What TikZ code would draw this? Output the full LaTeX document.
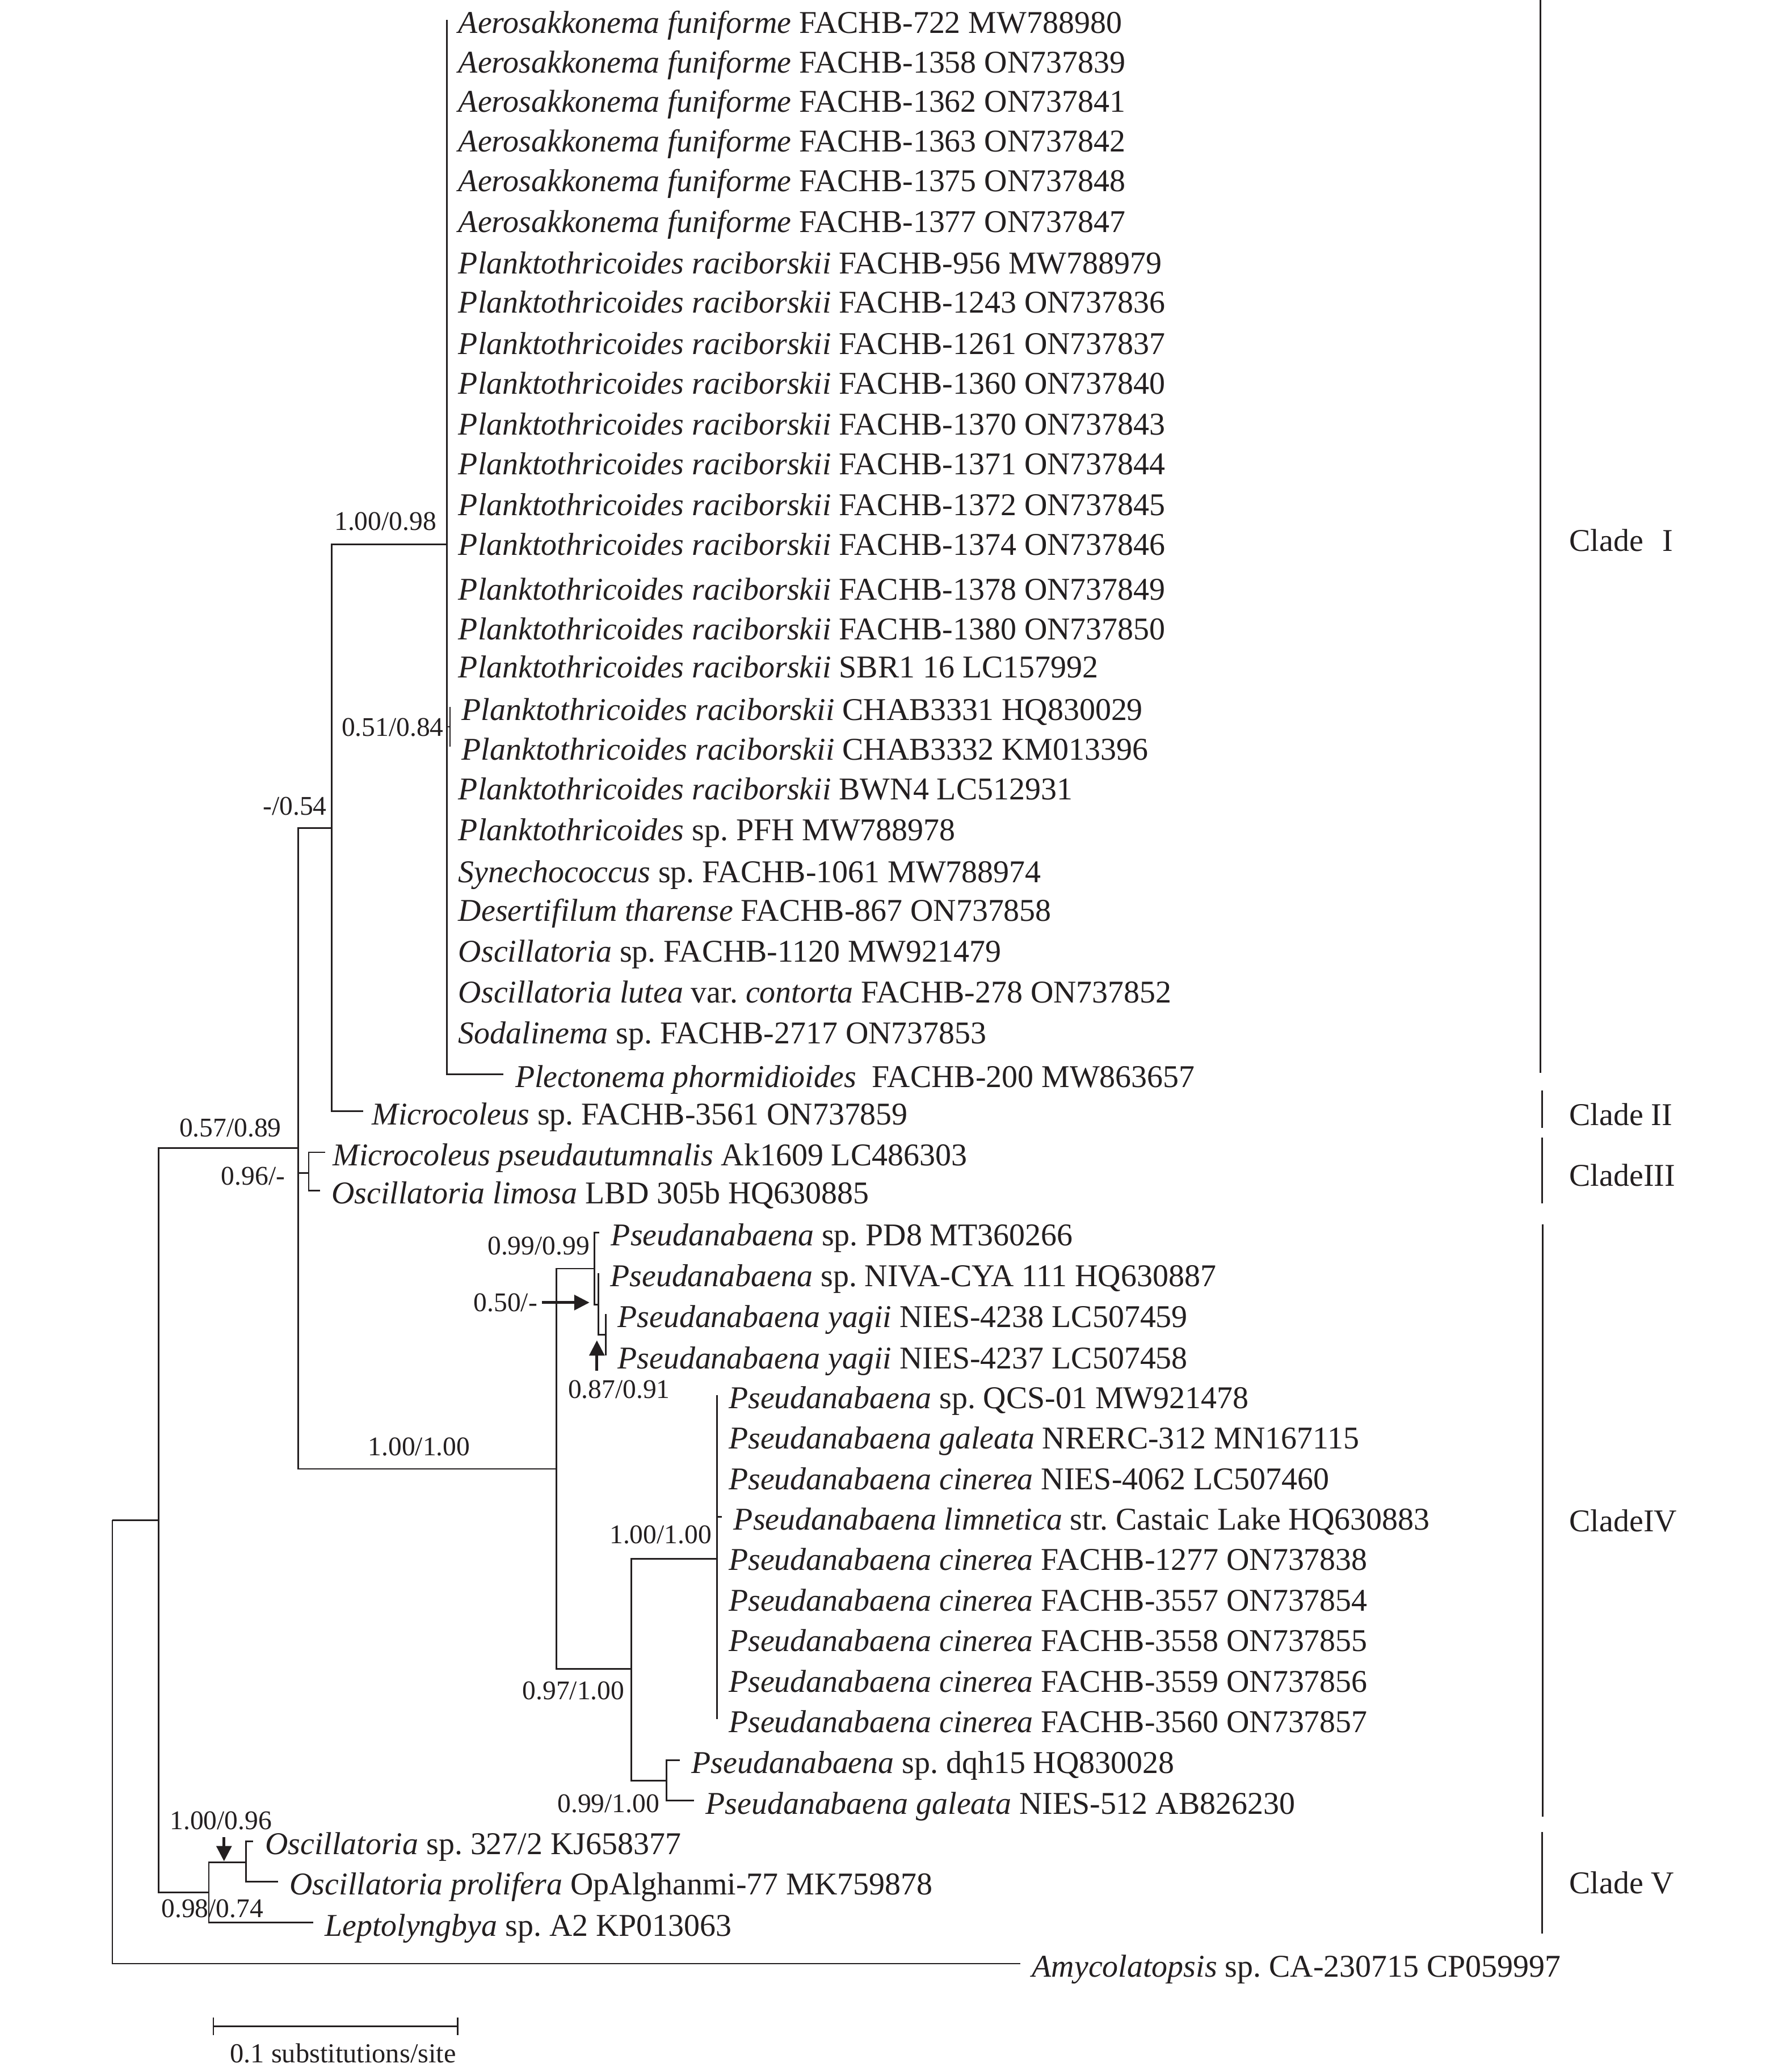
\documentclass[tikz,border=0pt]{standalone}
\usepackage{fontspec}
\setmainfont{Liberation Serif}
\usetikzlibrary{arrows.meta}
\definecolor{ink}{RGB}{35,31,32}
\frenchspacing
\begin{document}
\begin{tikzpicture}[x=0.5pt,y=-0.5pt,
  br/.style={draw=ink,line width=0.6pt},
  cladebar/.style={draw=ink,line width=0.65pt},
  leaf/.style={anchor=base west,inner xsep=4.25pt,inner ysep=0pt,text=ink,font=\fontsize{12}{14}\selectfont,yshift=-5pt},
  sup/.style={anchor=east,inner sep=0pt,text=ink,font=\fontsize{10.2}{12}\selectfont},
  cladelab/.style={anchor=west,inner sep=0pt,text=ink,font=\fontsize{12}{14}\selectfont},
  bigarrow/.style={draw=ink,line width=1.05pt,-{Triangle[length=5.8pt,width=5.7pt]}},
]
\fill[white] (0,0) rectangle (1352,1568);
\useasboundingbox (0,0) rectangle (1352,1568);

% ---------- internal nodes ----------
\coordinate (root) at (85,1150.4);
\coordinate (n1) at (120,1150.4);
\coordinate (n2) at (225.6,868.8);
\coordinate (n3) at (251,626.6);
\coordinate (nI) at (338,412);
\coordinate (nB) at (340.5,550);
\coordinate (nIII) at (233.6,887.6);
\coordinate (nIV) at (421,1111.6);
\coordinate (nP) at (449.8,960);
\coordinate (nQ) at (452.8,987.2);
\coordinate (nR) at (458.4,1010);
\coordinate (n097) at (477.8,1263);
\coordinate (nCin) at (542.5,1179.5);
\coordinate (n099) at (504.3,1347.4);
\coordinate (n5V) at (158,1432);
\coordinate (n100) at (186,1409.2);

% ---------- leaf tips ----------
\coordinate (t1) at (338,15);
\coordinate (t2) at (338,45);
\coordinate (t3) at (338,75);
\coordinate (t4) at (338,105);
\coordinate (t5) at (338,135);
\coordinate (t6) at (338,166);
\coordinate (t7) at (338,197);
\coordinate (t8) at (338,227);
\coordinate (t9) at (338,258);
\coordinate (t10) at (338,288);
\coordinate (t11) at (338,319);
\coordinate (t12) at (338,349);
\coordinate (t13) at (338,380);
\coordinate (t14) at (338,410);
\coordinate (t15) at (338,444);
\coordinate (t16) at (338,474);
\coordinate (t17) at (338,503);
\coordinate (t18) at (340.5,535);
\coordinate (t19) at (340.5,565);
\coordinate (t20) at (338,595);
\coordinate (t21) at (338,626);
\coordinate (t22) at (338,658);
\coordinate (t23) at (338,687);
\coordinate (t24) at (338,718);
\coordinate (t25) at (338,749);
\coordinate (t26) at (338,780);
\coordinate (t27) at (381,813);
\coordinate (t28) at (274.7,841);
\coordinate (t29) at (246,872);
\coordinate (t30) at (242,901);
\coordinate (t31) at (453.5,932.7);
\coordinate (t32) at (452.8,963.6);
\coordinate (t33) at (458.4,994.3);
\coordinate (t34) at (458.4,1025.8);
\coordinate (t35) at (542.5,1055.8);
\coordinate (t36) at (542.5,1086.5);
\coordinate (t37) at (542.5,1117.1);
\coordinate (t38) at (546.2,1147.8);
\coordinate (t39) at (542.5,1178.4);
\coordinate (t40) at (542.5,1209.1);
\coordinate (t41) at (542.5,1239.7);
\coordinate (t42) at (542.5,1270.4);
\coordinate (t43) at (542.5,1301);
\coordinate (t44) at (514.3,1332);
\coordinate (t45) at (525,1362.7);
\coordinate (t46) at (191.7,1393.5);
\coordinate (t47) at (210.3,1424);
\coordinate (t48) at (236.8,1455);
\coordinate (t49) at (772,1486);

% ---------- branches ----------
\draw[br] (root) |- (n1);
\draw[br] (root) |- (t49);
\draw[br] (n1) |- (n2);
\draw[br] (n1) |- (n5V);
\draw[br] (n2) |- (n3);
\draw[br] (n2) |- (nIII);
\draw[br] (n2) |- (nIV);
\draw[br] (n3) |- (nI);
\draw[br] (n3) |- (t28);
\foreach \i in {1,...,17,20,21,...,26} {\draw[br] (nI) |- (t\i);}
\draw[br] (nI) |- (nB);
\draw[br] (nI) |- (t27);
\draw[br] (nB) |- (t18);
\draw[br] (nB) |- (t19);
\draw[br] (nIII) |- (t29);
\draw[br] (nIII) |- (t30);
\draw[br] (nIV) |- (nP);
\draw[br] (nIV) |- (n097);
\draw[br] (nP) |- (t31);
\draw[br] (nP) |- (nQ);
\draw[br] (nQ) |- (t32);
\draw[br] (nQ) |- (nR);
\draw[br] (nR) |- (t33);
\draw[br] (nR) |- (t34);
\draw[br] (n097) |- (nCin);
\draw[br] (n097) |- (n099);
\foreach \i in {35,...,43} {\draw[br] (nCin) |- (t\i);}
\draw[br] (n099) |- (t44);
\draw[br] (n099) |- (t45);
\draw[br] (n5V) |- (n100);
\draw[br] (n5V) |- (t48);
\draw[br] (n100) |- (t46);
\draw[br] (n100) |- (t47);

% ---------- leaf labels ----------
\node[leaf] (L1) at (t1) {\textit{Aerosakkonema funiforme} FACHB-722 MW788980};
\node[leaf] (L2) at (t2) {\textit{Aerosakkonema funiforme} FACHB-1358 ON737839};
\node[leaf] (L3) at (t3) {\textit{Aerosakkonema funiforme} FACHB-1362 ON737841};
\node[leaf] (L4) at (t4) {\textit{Aerosakkonema funiforme} FACHB-1363 ON737842};
\node[leaf] (L5) at (t5) {\textit{Aerosakkonema funiforme} FACHB-1375 ON737848};
\node[leaf] (L6) at (t6) {\textit{Aerosakkonema funiforme} FACHB-1377 ON737847};
\node[leaf] (L7) at (t7) {\textit{Planktothricoides raciborskii} FACHB-956 MW788979};
\node[leaf] (L8) at (t8) {\textit{Planktothricoides raciborskii} FACHB-1243 ON737836};
\node[leaf] (L9) at (t9) {\textit{Planktothricoides raciborskii} FACHB-1261 ON737837};
\node[leaf] (L10) at (t10) {\textit{Planktothricoides raciborskii} FACHB-1360 ON737840};
\node[leaf] (L11) at (t11) {\textit{Planktothricoides raciborskii} FACHB-1370 ON737843};
\node[leaf] (L12) at (t12) {\textit{Planktothricoides raciborskii} FACHB-1371 ON737844};
\node[leaf] (L13) at (t13) {\textit{Planktothricoides raciborskii} FACHB-1372 ON737845};
\node[leaf] (L14) at (t14) {\textit{Planktothricoides raciborskii} FACHB-1374 ON737846};
\node[leaf] (L15) at (t15) {\textit{Planktothricoides raciborskii} FACHB-1378 ON737849};
\node[leaf] (L16) at (t16) {\textit{Planktothricoides raciborskii} FACHB-1380 ON737850};
\node[leaf] (L17) at (t17) {\textit{Planktothricoides raciborskii} SBR1 16 LC157992};
\node[leaf] (L18) at (t18) {\textit{Planktothricoides raciborskii} CHAB3331 HQ830029};
\node[leaf] (L19) at (t19) {\textit{Planktothricoides raciborskii} CHAB3332 KM013396};
\node[leaf] (L20) at (t20) {\textit{Planktothricoides raciborskii} BWN4 LC512931};
\node[leaf] (L21) at (t21) {\textit{Planktothricoides} sp. PFH MW788978};
\node[leaf] (L22) at (t22) {\textit{Synechococcus} sp. FACHB-1061 MW788974};
\node[leaf] (L23) at (t23) {\textit{Desertifilum tharense} FACHB-867 ON737858};
\node[leaf] (L24) at (t24) {\textit{Oscillatoria} sp. FACHB-1120 MW921479};
\node[leaf] (L25) at (t25) {\textit{Oscillatoria lutea} var. \textit{contorta} FACHB-278 ON737852};
\node[leaf] (L26) at (t26) {\textit{Sodalinema} sp. FACHB-2717 ON737853};
\node[leaf] (L27) at (t27) {\textit{Plectonema phormidioides}\ \ FACHB-200 MW863657};
\node[leaf,xshift=-1pt] (L28) at (t28) {\textit{Microcoleus} sp. FACHB-3561 ON737859};
\node[leaf,xshift=-1.5pt] (L29) at (t29) {\textit{Microcoleus pseudautumnalis} Ak1609 LC486303};
\node[leaf] (L30) at (t30) {\textit{Oscillatoria limosa} LBD 305b HQ630885};
\node[leaf] (L31) at (t31) {\textit{Pseudanabaena} sp. PD8 MT360266};
\node[leaf] (L32) at (t32) {\textit{Pseudanabaena} sp. NIVA-CYA 111 HQ630887};
\node[leaf] (L33) at (t33) {\textit{Pseudanabaena yagii} NIES-4238 LC507459};
\node[leaf] (L34) at (t34) {\textit{Pseudanabaena yagii} NIES-4237 LC507458};
\node[leaf] (L35) at (t35) {\textit{Pseudanabaena} sp. QCS-01 MW921478};
\node[leaf] (L36) at (t36) {\textit{Pseudanabaena galeata} NRERC-312 MN167115};
\node[leaf] (L37) at (t37) {\textit{Pseudanabaena cinerea} NIES-4062 LC507460};
\node[leaf] (L38) at (t38) {\textit{Pseudanabaena limnetica} str. Castaic Lake HQ630883};
\node[leaf] (L39) at (t39) {\textit{Pseudanabaena cinerea} FACHB-1277 ON737838};
\node[leaf] (L40) at (t40) {\textit{Pseudanabaena cinerea} FACHB-3557 ON737854};
\node[leaf] (L41) at (t41) {\textit{Pseudanabaena cinerea} FACHB-3558 ON737855};
\node[leaf] (L42) at (t42) {\textit{Pseudanabaena cinerea} FACHB-3559 ON737856};
\node[leaf] (L43) at (t43) {\textit{Pseudanabaena cinerea} FACHB-3560 ON737857};
\node[leaf] (L44) at (t44) {\textit{Pseudanabaena} sp. dqh15 HQ830028};
\node[leaf] (L45) at (t45) {\textit{Pseudanabaena galeata} NIES-512 AB826230};
\node[leaf] (L46) at (t46) {\textit{Oscillatoria} sp. 327/2 KJ658377};
\node[leaf] (L47) at (t47) {\textit{Oscillatoria prolifera} OpAlghanmi-77 MK759878};
\node[leaf] (L48) at (t48) {\textit{Leptolyngbya} sp. A2 KP013063};
\node[leaf] (L49) at (t49) {\textit{Amycolatopsis} sp. CA-230715 CP059997};

% ---------- support values ----------
\node[sup] (s1) at (330.5,394.8) {1.00/0.98};
\node[sup] (s2) at (336,550.5) {0.51/0.84};
\node[sup] (s3) at (247.5,610.3) {-/0.54};
\node[sup] (s4) at (213.2,853.5) {0.57/0.89};
\node[sup] (s5) at (216,890) {0.96/-};
\node[sup] (s6) at (356,1095) {1.00/1.00};
\node[sup] (s7) at (446.4,943) {0.99/0.99};
\node[sup] (s8) at (407,985.7) {0.50/-};
\node[sup] (s9) at (507.3,1051.6) {0.87/0.91};
\node[sup] (s10) at (538.7,1161.3) {1.00/1.00};
\node[sup] (s11) at (472.8,1279.5) {0.97/1.00};
\node[sup] (s12) at (499.3,1364.9) {0.99/1.00};
\node[sup] (s13) at (206,1377.7) {1.00/0.96};
\node[sup] (s14) at (199.6,1444.3) {0.98/0.74};

% ---------- pointer arrows ----------
\coordinate (a8tip) at (446,985.7);
\draw[bigarrow] ([xshift=1.5pt]s8.east) -- (a8tip);
\coordinate (a9base) at (451.6,1037.3);
\coordinate (a9tip) at (451.6,1014.3);
\draw[bigarrow] (a9base) -- (a9tip);
\coordinate (a13base) at (169.5,1390.3);
\coordinate (a13tip) at (169.5,1408.5);
\draw[bigarrow] (a13base) -- (a13tip);

% ---------- clade bars and labels ----------
\coordinate (cIa) at (1165.5,0);     \coordinate (cIb) at (1165.5,812);
\coordinate (cIIa) at (1166.7,825);  \coordinate (cIIb) at (1166.7,853.4);
\coordinate (cIIIa) at (1166.7,861); \coordinate (cIIIb) at (1166.7,910.6);
\coordinate (cIVa) at (1167,926.4);  \coordinate (cIVb) at (1167,1374.6);
\coordinate (cVa) at (1166.6,1386.3); \coordinate (cVb) at (1166.6,1463.3);
\draw[cladebar] (cIa) -- (cIb);
\draw[cladebar] (cIIa) -- (cIIb);
\draw[cladebar] (cIIIa) -- (cIIIb);
\draw[cladebar] (cIVa) -- (cIVb);
\draw[cladebar] (cVa) -- (cVb);
\node[cladelab] (CI) at (1187,409) {Clade\hspace{0.6em}I};
\node[cladelab] (CII) at (1187,843.5) {Clade\hspace{0.25em}II};
\node[cladelab] (CIII) at (1187,889.5) {CladeIII};
\node[cladelab] (CIV) at (1187,1151) {CladeIV};
\node[cladelab] (CV) at (1187,1425) {Clade\hspace{0.25em}V};

% ---------- scale bar ----------
\coordinate (sb1) at (161.4,1533.4);
\coordinate (sb2) at (346.2,1533.4);
\draw[br] (sb1) -- (sb2);
\draw[br] ([yshift=3.4pt]sb1) -- ([yshift=-3.4pt]sb1);
\draw[br] ([yshift=3.4pt]sb2) -- ([yshift=-3.4pt]sb2);
\node[anchor=east,inner sep=0pt,text=ink,font=\fontsize{10.4}{12}\selectfont] (sblab) at (345.5,1553.7) {0.1 substitutions/site};
\end{tikzpicture}
\end{document}
